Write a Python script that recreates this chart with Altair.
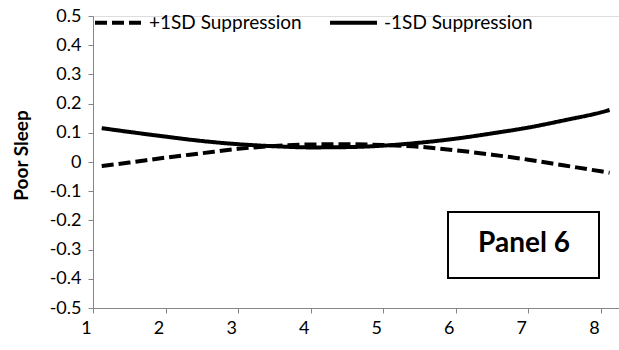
import altair as alt
import pandas as pd

x_vals = [1.12, 1.5, 2, 2.5, 3, 3.5, 4, 4.5, 5, 5.5, 6, 6.5, 7, 7.5, 8, 8.12]
plus_1sd = [-0.014, -0.002, 0.015, 0.030, 0.045, 0.055, 0.060, 0.061, 0.058, 0.052, 0.040, 0.025, 0.008, -0.012, -0.032, -0.037]
minus_1sd = [0.116, 0.103, 0.087, 0.072, 0.061, 0.054, 0.050, 0.051, 0.056, 0.066, 0.080, 0.098, 0.118, 0.143, 0.170, 0.178]
series_names = ["+1SD Suppression", "-1SD Suppression"]
x_ticks = [1, 2, 3, 4, 5, 6, 7, 8]
y_ticks = [-0.5, -0.4, -0.3, -0.2, -0.1, 0, 0.1, 0.2, 0.3, 0.4, 0.5]
panel_label = ["Panel 6"]

rows = []
for i, x in enumerate(x_vals):
    rows.append({"x": x, "y": plus_1sd[i], "series": series_names[0], "o": i})
    rows.append({"x": x, "y": minus_1sd[i], "series": series_names[1], "o": i})
df = pd.DataFrame(rows)

FONT = "Lato"
AX = "#868686"

lines = alt.Chart(df).mark_line(color="black", strokeWidth=4, interpolate="monotone", strokeCap="butt").encode(
    x=alt.X("x:Q", scale=alt.Scale(domain=[1, 8.25], nice=False, zero=False),
            axis=alt.Axis(values=x_ticks, title=None, grid=False, domainColor=AX, tickColor=AX,
                          tickSize=5, labelFont=FONT, labelFontSize=18, labelColor="black",
                          labelOffset=-7, labelPadding=6, labelFlush=False)),
    y=alt.Y("y:Q", scale=alt.Scale(domain=[-0.5, 0.5], nice=False, zero=False),
            axis=alt.Axis(values=y_ticks, title="Poor Sleep", grid=False, domainColor=AX, tickColor=AX,
                          tickSize=5, labelFont=FONT, labelFontSize=18, labelColor="black", labelPadding=7,
                          labelExpr="datum.value == 0 ? '0' : replace(format(datum.value, '.1f'), '\u2212', '-')",
                          titleFont=FONT, titleFontSize=19, titleFontWeight="bold", titleColor="black",
                          titleX=-72, titleY=139, titleAngle=-90, titleAlign="center", titleBaseline="middle")),
    strokeDash=alt.StrokeDash("series:N", scale=alt.Scale(domain=series_names, range=[[12, 5], [1, 0]]),
                              legend=alt.Legend(title=None, orient="none", legendX=0, legendY=-19,
                                                direction="horizontal", symbolType="stroke",
                                                symbolStrokeWidth=4, symbolSize=2209, symbolStrokeColor="black",
                                                labelFont=FONT, labelFontSize=19, labelColor="black",
                                                labelOffset=5, columnPadding=20, padding=0)),
    order="o:Q",
)

box = alt.Chart(pd.DataFrame({"t": panel_label})).mark_rect(fill="white", stroke="black", strokeWidth=2).encode(
    x=alt.value(355), x2=alt.value(506), y=alt.value(196), y2=alt.value(262)
)
label = alt.Chart(pd.DataFrame({"t": panel_label})).mark_text(
    font=FONT, fontSize=28, fontWeight="bold", color="black", align="center", baseline="middle"
).encode(x=alt.value(431), y=alt.value(228), text="t:N")

chart = alt.layer(lines, box, label).properties(
    width=526, height=292,
    autosize=alt.AutoSizeParams(type="none"),
    padding={"left": 93, "top": 16, "right": 0, "bottom": 42},
).configure_view(stroke=None).configure(background="white")

chart.save("out.html", embed_options={"renderer": "svg", "actions": False})
